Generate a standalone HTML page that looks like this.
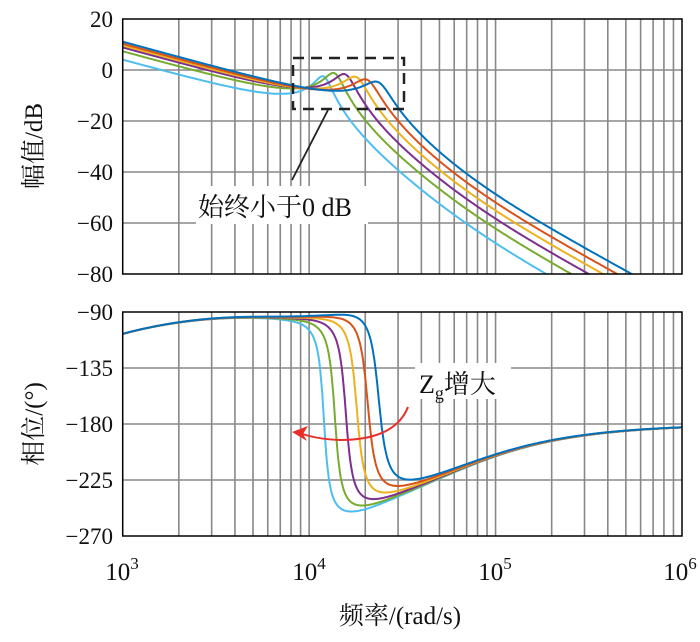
<!DOCTYPE html>
<html><head><meta charset="utf-8"><style>
body{margin:0;background:#fff;width:700px;height:637px;overflow:hidden}
svg text{font-family:"Liberation Serif","Noto Serif CJK SC",serif;fill:#111}
</style></head><body>
<svg id="s" width="700" height="637" xmlns="http://www.w3.org/2000/svg">
<defs>
<clipPath id="c1"><rect x="122.7" y="19" width="559.3" height="255"/></clipPath>
<clipPath id="c2"><rect x="122.7" y="312" width="559.3" height="224"/></clipPath>
</defs>
<g id="grid" stroke="#888" stroke-width="1.6" fill="none"></g>
<g id="curves" fill="none" stroke-width="2"></g>
<rect x="122.7" y="19" width="559.3" height="255" fill="none" stroke="#000" stroke-width="1.5"/>
<rect x="122.7" y="312" width="559.3" height="224" fill="none" stroke="#000" stroke-width="1.5"/>
<g font-size="23" text-anchor="end">
<text x="113" y="27">20</text><text x="113" y="78">0</text><text x="113" y="129">−20</text><text x="113" y="180">−40</text><text x="113" y="231">−60</text><text x="113" y="282">−80</text>
<text x="113" y="320">−90</text><text x="113" y="376">−135</text><text x="113" y="432">−180</text><text x="113" y="488">−225</text><text x="113" y="544">−270</text>
</g>
<g font-size="25" text-anchor="middle">
<text x="122" y="580">10<tspan font-size="17" dy="-11">3</tspan></text>
<text x="309" y="580">10<tspan font-size="17" dy="-11">4</tspan></text>
<text x="495" y="580">10<tspan font-size="17" dy="-11">5</tspan></text>
<text x="680" y="580">10<tspan font-size="17" dy="-11">6</tspan></text>
</g>
<text x="400" y="624" font-size="25" text-anchor="middle">频率/(rad/s)</text>
<text transform="translate(42,146) rotate(-90)" font-size="25" text-anchor="middle">幅值/dB</text>
<text transform="translate(42,424) rotate(-90)" font-size="25" text-anchor="middle">相位/(°)</text>
<rect x="293" y="58" width="111" height="51" fill="none" stroke="#222" stroke-width="2.5" stroke-dasharray="11,7"/>
<line x1="328" y1="110" x2="292" y2="180" stroke="#222" stroke-width="1.8"/>
<rect x="196" y="186" width="172" height="38" fill="#fff"/>
<text x="198" y="216" font-size="26">始终小于0 dB</text>
<rect x="415" y="363" width="96" height="36" fill="#fff"/>
<text x="419" y="393" font-size="26">Z<tspan font-size="18" dy="6">g</tspan><tspan dy="-6">增大</tspan></text>
<path d="M408,407 Q395,440 340,440 Q315,439 300,433" fill="none" stroke="#e8302a" stroke-width="2"/>
<path d="M292,432 L308,426 L303,434 L307,441 Z" fill="#e8302a"/>
</svg>
<script>
var NS="http://www.w3.org/2000/svg";
function X(u){return 122.7+(u-3)*186.43;}
function Ym(d){return 19+(20-d)*2.55;}
function Yp(p){return 312+(-90-p)*1.2444;}
var g=document.getElementById('grid'),d='';
for(var e=3;e<6;e++)for(var k=2;k<10;k++){var x=X(e+Math.log10(k));d+='M'+x+',19V274M'+x+',312V536';}
for(var e=4;e<6;e++){var x=X(e);d+='M'+x+',19V274M'+x+',312V536';}
for(var i=1;i<5;i++){var y=19+i*51;d+='M122.7,'+y+'H682';}
for(var i=1;i<4;i++){var y=312+i*56;d+='M122.7,'+y+'H682';}
var p=document.createElementNS(NS,'path');p.setAttribute('d',d);g.appendChild(p);
var cols=['#4DBEEE','#77AC30','#7E2F8E','#EDB120','#D95319','#0072BD'];
var Cs=[4,7.3,8.8,9.6,10.3,11.1];
var wn0=1.2e4,wn1=2.36e4;
var cg=document.getElementById('curves');
var g1=document.createElementNS(NS,'g');g1.setAttribute('clip-path','url(#c1)');cg.appendChild(g1);
var g2=document.createElementNS(NS,'g');g2.setAttribute('clip-path','url(#c2)');cg.appendChild(g2);
var DEG=180/Math.PI;
for(var i=0;i<6;i++){
 var t=i/5,wn=wn0*Math.pow(wn1/wn0,t),z=0.09+0.05*t,C=Cs[i],zp=z*0.6;
 var dm='',dp='';
 for(var n=0;n<=600;n++){
  var u=3+3*n/600,w=Math.pow(10,u),r=w/wn;
  var re=1-r*r,im=2*z*r;
  var res=-10*Math.log10(re*re+im*im);
  var m=C-20*(u-3)+res+10*Math.log10(1+Math.pow(w/7e4,2));
  var ph2=Math.atan2(2*zp*r,re)*DEG;
  var wd=u<4.1?0.45:0.3;
  var ph=-90-Math.atan(330/w)*DEG-ph2+Math.atan(w/5e4)*DEG-8*Math.exp(-Math.pow((u-4.1)/wd,2));
  dm+=(n?'L':'M')+X(u).toFixed(1)+','+Ym(Math.max(m,-95)).toFixed(1);
  dp+=(n?'L':'M')+X(u).toFixed(1)+','+Yp(ph).toFixed(1);
 }
 var a=document.createElementNS(NS,'path');a.setAttribute('d',dm);a.setAttribute('stroke',cols[i]);g1.appendChild(a);
 var b=document.createElementNS(NS,'path');b.setAttribute('d',dp);b.setAttribute('stroke',cols[i]);g2.appendChild(b);
}
</script>
</body></html>
